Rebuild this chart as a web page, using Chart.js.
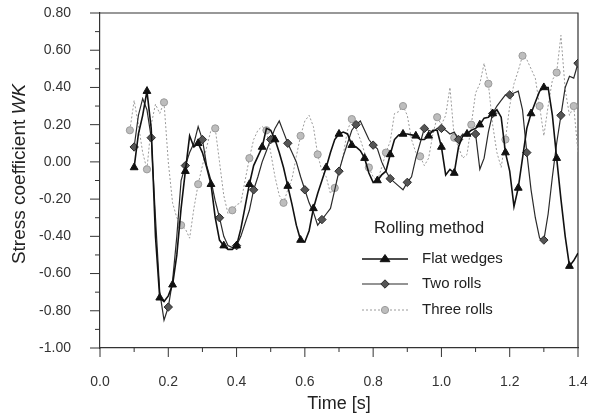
<!DOCTYPE html>
<html><head><meta charset="utf-8">
<script src="https://cdn.jsdelivr.net/npm/chart.js@4/dist/chart.umd.min.js"></script>
<style>html,body{margin:0;padding:0;background:#fff}</style>
</head><body>
<canvas id="c" width="589" height="414"></canvas>
<script>
// ---- data ----
const times = [
0.0875,0.1,0.1125,0.125,0.1375,0.15,0.1625,0.175,0.1875,0.2,
0.2125,0.225,0.2375,0.25,0.2625,0.275,0.2875,0.3,0.3125,0.325,
0.3375,0.35,0.3625,0.375,0.3875,0.4,0.4125,0.425,0.4375,0.45,
0.4625,0.475,0.4875,0.5,0.5125,0.525,0.5375,0.55,0.5625,0.575,
0.5875,0.6,0.6125,0.625,0.6375,0.65,0.6625,0.675,0.6875,0.7,
0.7125,0.725,0.7375,0.75,0.7625,0.775,0.7875,0.8,0.8125,0.825,
0.8375,0.85,0.8625,0.875,0.8875,0.9,0.9125,0.925,0.9375,0.95,
0.9625,0.975,0.9875,1.0,1.0125,1.025,1.0375,1.05,1.0625,1.075,
1.0875,1.1,1.1125,1.125,1.1375,1.15,1.1625,1.175,1.1875,1.2,
1.2125,1.225,1.2375,1.25,1.2625,1.275,1.2875,1.3,1.3125,1.325,
1.3375,1.35,1.3625,1.375,1.3875,1.4];

const flatWedges = [
null,-0.03,0.15,0.25,0.38,0.18,-0.40,-0.73,-0.75,-0.72,
-0.66,-0.50,-0.25,-0.05,0.14,0.08,0.10,0.05,-0.03,-0.12,
-0.30,-0.42,-0.45,-0.47,-0.47,-0.45,-0.36,-0.24,-0.12,-0.02,
0.03,0.08,0.18,0.17,0.12,0.05,-0.03,-0.13,-0.23,-0.34,
-0.42,-0.43,-0.37,-0.25,-0.17,-0.10,-0.03,0.05,0.12,0.15,
0.16,0.15,0.09,0.08,0.06,0.02,-0.06,-0.11,-0.10,-0.07,
-0.05,0.04,0.12,0.145,0.15,0.15,0.145,0.14,0.12,0.12,
0.14,0.17,0.17,0.08,-0.07,-0.04,-0.06,0.08,0.14,0.15,
0.17,0.18,0.20,0.235,0.24,0.26,0.28,0.24,0.05,-0.05,
-0.24,-0.14,0.02,0.18,0.26,0.32,0.38,0.40,0.40,0.25,
0.02,-0.20,-0.40,-0.56,-0.53,-0.49];

const twoRolls = [
null,0.08,0.25,0.34,0.28,0.13,-0.30,-0.70,-0.85,-0.78,
-0.64,-0.40,-0.10,-0.02,0.05,0.10,0.19,0.12,-0.02,-0.10,
-0.21,-0.30,-0.40,-0.45,-0.46,-0.45,-0.40,-0.33,-0.26,-0.15,
-0.08,0.00,0.06,0.12,0.18,0.22,0.16,0.10,0.05,0.00,
-0.08,-0.15,-0.22,-0.27,-0.34,-0.31,-0.28,-0.25,-0.15,-0.05,
0.03,0.10,0.17,0.20,0.22,0.17,0.12,0.09,0.07,0.00,
-0.05,-0.09,-0.11,-0.13,-0.15,-0.11,-0.08,0.02,0.10,0.18,
0.17,0.16,0.18,0.18,0.17,0.15,0.16,0.12,0.15,0.14,
0.15,0.15,-0.04,0.02,0.16,0.26,0.30,0.33,0.36,0.36,
0.37,0.38,0.28,0.05,-0.15,-0.30,-0.41,-0.42,-0.28,-0.08,
0.10,0.25,0.40,0.46,0.45,0.53];

const threeRolls = [
0.17,0.33,0.20,0.05,-0.04,0.20,0.31,0.26,0.32,0.00,
-0.22,-0.30,-0.34,-0.36,-0.41,-0.25,-0.12,-0.02,0.08,0.17,
0.18,0.00,-0.18,-0.28,-0.26,-0.23,-0.22,-0.10,0.02,0.12,
0.17,0.19,0.17,0.05,-0.08,-0.18,-0.22,-0.15,-0.09,0.03,
0.14,0.22,0.25,0.19,0.04,-0.05,-0.08,-0.17,-0.14,-0.05,
0.04,0.17,0.23,0.18,0.12,0.05,-0.03,-0.08,-0.10,-0.03,
0.05,0.11,0.26,0.27,0.30,0.25,0.12,0.05,0.03,-0.02,
0.02,0.15,0.24,0.20,0.25,0.40,0.13,0.08,0.02,0.04,
0.20,0.37,0.42,0.53,0.42,0.20,0.05,-0.03,0.12,0.30,
0.42,0.49,0.57,0.55,0.50,0.45,0.30,0.14,0.30,0.44,
0.48,0.68,0.39,0.25,0.30,0.05];

const xTickValues = [0,0.2,0.4,0.6,0.8,1.0,1.2,1.4];
const yTickValues = [-1.0,-0.8,-0.6,-0.4,-0.2,0,0.2,0.4,0.6,0.8];
const seriesNames = ['Flat wedges','Two rolls','Three rolls'];
const legendTitle = 'Rolling method';
const xTitle = 'Time [s]';
const yTitleMain = 'Stress coefficient ';
const yTitleItalic = 'WK';

// ---- chart ----
const FONT = '"Liberation Sans", Arial, sans-serif';
const toPts = arr => arr.map((v,i)=>({x:times[i], y:v}));
const markerEvery = (n, off, r) => ctx => (ctx.dataIndex % n === off ? r : 0);

const styles = [
  {color:'#111', fill:'#111', width:1.6, dash:[], pstyle:'triangle', r:4.5, n:3, off:1},
  {color:'#2a2a2a', fill:'#555', width:1.2, dash:[], pstyle:'rectRot', r:4.2, n:4, off:1},
  {color:'#9a9a9a', fill:'#bdbdbd', width:1, dash:[2,2], pstyle:'circle', r:3.6, n:4, off:0}
];
const seriesData = [flatWedges, twoRolls, threeRolls];

const datasets = seriesData.map((d,i)=>{
  const s = styles[i];
  return {
    label: seriesNames[i],
    data: toPts(d),
    borderColor: s.color,
    borderWidth: s.width,
    borderDash: s.dash,
    backgroundColor: s.fill,
    pointBackgroundColor: s.fill,
    pointBorderColor: s.color,
    pointBorderWidth: 1,
    pointStyle: s.pstyle,
    pointRadius: markerEvery(s.n, s.off, s.r),
    pointHoverRadius: 0,
    tension: 0,
    spanGaps: false,
    fill: false
  };
});

function drawMarker(ctx, style, x, y, r, fill, stroke){
  ctx.save();
  ctx.fillStyle = fill; ctx.strokeStyle = stroke; ctx.lineWidth = 1; ctx.setLineDash([]);
  ctx.beginPath();
  if (style === 'triangle'){
    const h = r*1.5;
    ctx.moveTo(x, y - h*0.66); ctx.lineTo(x + r*1.1, y + h*0.4); ctx.lineTo(x - r*1.1, y + h*0.4); ctx.closePath();
  } else if (style === 'rectRot'){
    ctx.moveTo(x, y - r); ctx.lineTo(x + r, y); ctx.lineTo(x, y + r); ctx.lineTo(x - r, y); ctx.closePath();
  } else {
    ctx.arc(x, y, r, 0, Math.PI*2);
  }
  ctx.fill(); ctx.stroke();
  ctx.restore();
}

const decor = {
  id: 'decor',
  beforeDatasetsDraw(chart){
    const {ctx, chartArea:a, scales:{x, y}} = chart;
    ctx.save();
    ctx.strokeStyle = '#333'; ctx.lineWidth = 1.2;
    ctx.beginPath();
    ctx.moveTo(a.left, a.top); ctx.lineTo(a.right, a.top); ctx.lineTo(a.right, a.bottom);
    ctx.stroke();
    ctx.lineWidth = 1;
    for (let i=0;i<xTickValues.length;i++){
      const px = x.getPixelForValue(xTickValues[i]);
      ctx.beginPath(); ctx.moveTo(px, a.bottom); ctx.lineTo(px, a.bottom+9); ctx.stroke();
      if (i < xTickValues.length-1){
        const pm = x.getPixelForValue((xTickValues[i]+xTickValues[i+1])/2);
        ctx.beginPath(); ctx.moveTo(pm, a.bottom); ctx.lineTo(pm, a.bottom+4); ctx.stroke();
      }
    }
    for (let i=0;i<yTickValues.length;i++){
      const py = y.getPixelForValue(yTickValues[i]);
      ctx.beginPath(); ctx.moveTo(a.left, py); ctx.lineTo(a.left-10, py); ctx.stroke();
      if (i < yTickValues.length-1){
        const pm = y.getPixelForValue((yTickValues[i]+yTickValues[i+1])/2);
        ctx.beginPath(); ctx.moveTo(a.left, pm); ctx.lineTo(a.left-5, pm); ctx.stroke();
      }
    }
    ctx.restore();
  },
  afterDraw(chart){
    const {ctx, chartArea:a} = chart;
    ctx.save();
    ctx.fillStyle = '#222';
    ctx.font = '18px ' + FONT;
    ctx.textAlign = 'center'; ctx.textBaseline = 'alphabetic';
    ctx.fillText(xTitle, (a.left+a.right)/2, 409);
    ctx.translate(25, 174);
    ctx.rotate(-Math.PI/2);
    ctx.font = '19px ' + FONT;
    const w1 = ctx.measureText(yTitleMain).width;
    ctx.font = 'italic 19px ' + FONT;
    const w2 = ctx.measureText(yTitleItalic).width;
    const sx = -(w1+w2)/2;
    ctx.textAlign = 'left';
    ctx.font = '19px ' + FONT;
    ctx.fillText(yTitleMain, sx, 0);
    ctx.font = 'italic 19px ' + FONT;
    ctx.fillText(yTitleItalic, sx + w1, 0);
    ctx.restore();

    ctx.save();
    ctx.fillStyle = '#222';
    ctx.textBaseline = 'middle'; ctx.textAlign = 'left';
    ctx.font = '16.5px ' + FONT;
    ctx.fillText(legendTitle, 374, 228);
    ctx.font = '15px ' + FONT;
    const ys = [259, 284, 310];
    for (let i=0;i<3;i++){
      const s = styles[i];
      ctx.save();
      ctx.strokeStyle = s.color; ctx.lineWidth = s.width; ctx.setLineDash(s.dash);
      ctx.beginPath(); ctx.moveTo(362, ys[i]); ctx.lineTo(408, ys[i]); ctx.stroke();
      ctx.restore();
      drawMarker(ctx, s.pstyle, 385, ys[i], s.r, s.fill, s.color);
      ctx.fillStyle = '#222';
      ctx.fillText(seriesNames[i], 422, ys[i]);
    }
    ctx.restore();
  }
};

new Chart(document.getElementById('c'), {
  type: 'line',
  data: { datasets },
  plugins: [decor],
  options: {
    responsive: false,
    animation: false,
    events: [],
    layout: { padding: { left: 0, top: 13, right: 11, bottom: 0 } },
    plugins: { legend: { display: false }, tooltip: { enabled: false }, title: { display: false } },
    scales: {
      x: {
        type: 'linear', min: 0, max: 1.4,
        grid: { display: false },
        border: { display: true, color: '#333', width: 1.2 },
        afterBuildTicks: sc => { sc.ticks = xTickValues.map(v => ({value: v})); },
        afterFit: sc => { sc.height = 66; sc.paddingLeft = 0; sc.paddingRight = 0; },
        ticks: {
          autoSkip: false, maxRotation: 0, padding: 18,
          color: '#333', font: { size: 14, family: FONT },
          callback: v => Number(v).toFixed(1)
        }
      },
      y: {
        type: 'linear', min: -1, max: 0.8,
        grid: { display: false },
        border: { display: true, color: '#333', width: 1.2 },
        afterBuildTicks: sc => { sc.ticks = yTickValues.map(v => ({value: v})); },
        afterFit: sc => { sc.width = 100; sc.paddingTop = 0; sc.paddingBottom = 0; },
        ticks: {
          autoSkip: false, padding: 21,
          color: '#333', font: { size: 14, family: FONT },
          callback: v => Number(v).toFixed(2)
        }
      }
    }
  }
});
</script>
</body></html>
